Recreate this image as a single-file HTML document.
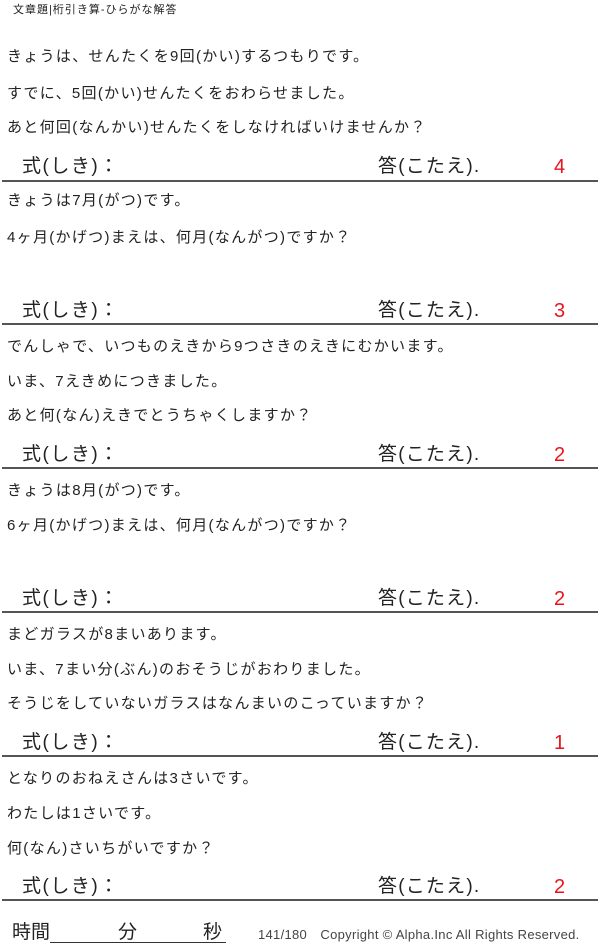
<!DOCTYPE html>
<html><head><meta charset="utf-8"><style>
body{margin:0;width:600px;height:949px;background:#fff;position:relative;overflow:hidden;font-family:"Liberation Sans","Noto Sans CJK JP",sans-serif;color:#222}
.t{position:absolute;left:7px;font-size:15px;line-height:20px;white-space:nowrap;letter-spacing:1.3px}
.f{position:absolute;left:22px;font-size:19px;line-height:24px;white-space:nowrap;letter-spacing:1.5px}
.a{position:absolute;left:378px;font-size:19px;line-height:24px;white-space:nowrap;letter-spacing:1.2px}
.n{position:absolute;left:554px;font-size:20px;line-height:24px;color:#e8141e}
.l{position:absolute;left:2px;width:596px;height:2px;background:#555}
</style></head><body>
<div class="t" style="top:2px;left:13px;font-size:11px;line-height:16px;letter-spacing:1px">文章題|桁引き算-ひらがな解答</div>

<div class="t" style="top:47px">きょうは、せんたくを9回(かい)するつもりです。</div>
<div class="t" style="top:84px">すでに、5回(かい)せんたくをおわらせました。</div>
<div class="t" style="top:118px">あと何回(なんかい)せんたくをしなければいけませんか？</div>
<div class="f" style="top:155px">式(しき)：</div><div class="a" style="top:155px">答(こたえ).</div><div class="n" style="top:155px">4</div>
<div class="l" style="top:180px"></div>

<div class="t" style="top:191px">きょうは7月(がつ)です。</div>
<div class="t" style="top:228px">4ヶ月(かげつ)まえは、何月(なんがつ)ですか？</div>
<div class="f" style="top:299px">式(しき)：</div><div class="a" style="top:299px">答(こたえ).</div><div class="n" style="top:299px">3</div>
<div class="l" style="top:323px"></div>

<div class="t" style="top:337px">でんしゃで、いつものえきから9つさきのえきにむかいます。</div>
<div class="t" style="top:372px">いま、7えきめにつきました。</div>
<div class="t" style="top:406px">あと何(なん)えきでとうちゃくしますか？</div>
<div class="f" style="top:443px">式(しき)：</div><div class="a" style="top:443px">答(こたえ).</div><div class="n" style="top:443px">2</div>
<div class="l" style="top:467px"></div>

<div class="t" style="top:481px">きょうは8月(がつ)です。</div>
<div class="t" style="top:516px">6ヶ月(かげつ)まえは、何月(なんがつ)ですか？</div>
<div class="f" style="top:587px">式(しき)：</div><div class="a" style="top:587px">答(こたえ).</div><div class="n" style="top:587px">2</div>
<div class="l" style="top:611px"></div>

<div class="t" style="top:625px">まどガラスが8まいあります。</div>
<div class="t" style="top:660px">いま、7まい分(ぶん)のおそうじがおわりました。</div>
<div class="t" style="top:694px">そうじをしていないガラスはなんまいのこっていますか？</div>
<div class="f" style="top:731px">式(しき)：</div><div class="a" style="top:731px">答(こたえ).</div><div class="n" style="top:731px">1</div>
<div class="l" style="top:755px"></div>

<div class="t" style="top:769px">となりのおねえさんは3さいです。</div>
<div class="t" style="top:804px">わたしは1さいです。</div>
<div class="t" style="top:839px">何(なん)さいちがいですか？</div>
<div class="f" style="top:875px">式(しき)：</div><div class="a" style="top:875px">答(こたえ).</div><div class="n" style="top:875px">2</div>
<div class="l" style="top:899px"></div>

<div style="position:absolute;left:12px;top:921px;font-size:19px;line-height:24px">時間</div>
<div style="position:absolute;left:50px;top:942px;width:176px;height:1px;background:#333"></div>
<div style="position:absolute;left:118px;top:921px;font-size:19px;line-height:24px">分</div>
<div style="position:absolute;left:203px;top:921px;font-size:19px;line-height:24px">秒</div>
<div style="position:absolute;left:258px;top:927px;font-size:13px;line-height:16px;color:#444;white-space:nowrap;letter-spacing:0.3px">141/180　Copyright ©  Alpha.Inc All Rights Reserved.</div>
</body></html>
